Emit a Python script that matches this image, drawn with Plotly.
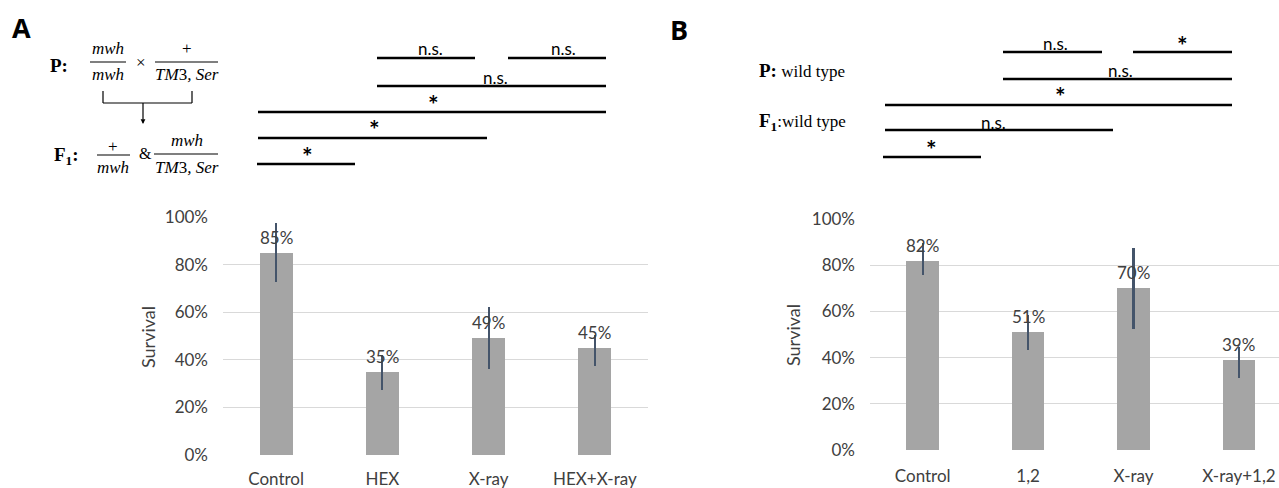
import plotly.graph_objects as go

W, H = 1279, 488

# ---------------- data ----------------
cats_a = ["Control", "HEX", "X-ray", "HEX+X-ray"]
surv_a = [0.85, 0.35, 0.49, 0.45]
err_up_a = [0.126, 0.070, 0.133, 0.054]
err_dn_a = [0.122, 0.077, 0.129, 0.075]

cats_b = ["Control", "1,2", "X-ray", "X-ray+1,2"]
surv_b = [0.82, 0.51, 0.70, 0.39]
err_up_b = [0.076, 0.075, 0.174, 0.058]
err_dn_b = [0.061, 0.077, 0.176, 0.077]

ytick_vals = [0, 0.2, 0.4, 0.6, 0.8, 1.0]
ytick_text = ["0%", "20%", "40%", "60%", "80%", "100%"]

sig_labels_a = ["n.s.", "n.s.", "n.s.", "*", "*", "*"]
sig_labels_b = ["n.s.", "*", "n.s.", "*", "n.s.", "*"]

# ---------------- layout helpers ----------------
def px(x):
    return x / W

def py(y):
    return 1 - y / H

BAR = "#a5a5a5"
ERR = "#44546a"
GRID = "#d9d9d9"
TXT = "#404040"
FONT = "Lato"
SERIF = "Liberation Serif"

fig = go.Figure()

fig.add_trace(go.Bar(
    x=cats_a, y=surv_a, marker=dict(color=BAR, line=dict(width=0)), width=0.31,
    error_y=dict(type="data", symmetric=False, array=err_up_a, arrayminus=err_dn_a,
                 color=ERR, thickness=2.2, width=0),
    xaxis="x", yaxis="y", showlegend=False, hoverinfo="skip",
))
fig.add_trace(go.Bar(
    x=cats_b, y=surv_b, marker=dict(color=BAR, line=dict(width=0)), width=0.31,
    error_y=dict(type="data", symmetric=False, array=err_up_b, arrayminus=err_dn_b,
                 color=ERR, thickness=2.2, width=0),
    xaxis="x2", yaxis="y2", showlegend=False, hoverinfo="skip",
))

annotations = []
shapes = []

def note(x, y, t, size, family, color="black", xanchor="center", angle=0):
    annotations.append(dict(x=px(x), y=py(y), xref="paper", yref="paper", text=t,
                            showarrow=False, xanchor=xanchor, yanchor="middle",
                            textangle=angle, font=dict(family=family, size=size, color=color)))

# data labels
for cats, vals, xr, yr in [(cats_a, surv_a, "x", "y"), (cats_b, surv_b, "x2", "y2")]:
    for c, v in zip(cats, vals):
        annotations.append(dict(x=c, y=v, xref=xr, yref=yr, text=f"{round(v*100)}%",
                                showarrow=False, xanchor="center", yanchor="bottom", yshift=3,
                                font=dict(family=FONT, size=17, color=TXT)))

# axis titles
note(148, 337, "Survival", 18, FONT, TXT, angle=-90)
note(793, 335, "Survival", 18, FONT, TXT, angle=-90)

# panel letters
note(22, 28, "<b>A</b>", 27, "Open Sans")
note(679, 29, "<b>B</b>", 27, "Open Sans")

# significance bars (pixel positions)
sig_pos_a = [(377, 475, 58), (508, 606, 58), (377, 606, 86), (258, 606, 112), (258, 487, 138), (257, 355, 164)]
sig_txt_a = [(430, 49), (563, 49), (495, 77), (433, 104), (374, 129), (307, 156)]
sig_pos_b = [(1003, 1102, 52), (1133, 1232, 52), (1003, 1232, 79), (885, 1232, 105), (885, 1113, 130), (883, 981, 157)]
sig_txt_b = [(1055, 43), (1182, 45), (1120, 70), (1060, 96), (993, 122), (931, 149)]

for labels, pos, tpos in [(sig_labels_a, sig_pos_a, sig_txt_a), (sig_labels_b, sig_pos_b, sig_txt_b)]:
    for lab, (x0, x1, y), (tx, ty) in zip(labels, pos, tpos):
        shapes.append(dict(type="line", xref="paper", yref="paper", x0=px(x0), x1=px(x1),
                           y0=py(y), y1=py(y), line=dict(color="black", width=2.6)))
        if lab == "*":
            note(tx, ty, "<b>*</b>", 25, FONT)
        else:
            note(tx, ty, lab, 17, FONT)

# genetics text panel A
def serif(x, y, t, size=17, anchor="center"):
    note(x, y, t, size, SERIF, xanchor=anchor)

def hline(x0, x1, y, w=1.2):
    shapes.append(dict(type="line", xref="paper", yref="paper", x0=px(x0), x1=px(x1),
                       y0=py(y), y1=py(y), line=dict(color="black", width=w)))

def vline(x, y0, y1, w=1.2):
    shapes.append(dict(type="line", xref="paper", yref="paper", x0=px(x), x1=px(x),
                       y0=py(y0), y1=py(y1), line=dict(color="black", width=w)))

serif(59, 66, "<b>P:</b>", 19)
serif(108, 48, "<i>mwh</i>", 17)
hline(90, 126, 62)
serif(108, 75, "<i>mwh</i>", 17)
serif(141, 63, "×", 17)
serif(187, 48, "+", 17)
hline(155, 218, 62)
serif(187, 75, "<i>TM</i>3<i>, Ser</i>", 17)
# bracket
vline(103, 91, 103)
vline(192, 91, 103)
hline(103, 192, 103)
vline(143, 103, 119)
annotations.append(dict(x=px(143), y=py(124), ax=0, ay=-6, xref="paper", yref="paper",
                        axref="pixel", ayref="pixel", text="", showarrow=True, arrowhead=2,
                        arrowsize=0.8, arrowwidth=1.2, arrowcolor="black"))
serif(66, 156, "<b>F<sub>1</sub>:</b>", 19)
serif(113, 146, "+", 17)
hline(97, 130, 155)
serif(113, 168, "<i>mwh</i>", 17)
serif(145, 153, "&amp;", 16)
serif(187, 140, "<i>mwh</i>", 17)
hline(154, 218, 154)
serif(187, 168, "<i>TM</i>3<i>, Ser</i>", 17)

# genetics text panel B
serif(757, 70, "<b><span style='font-size:19px'>P:</span></b> wild type", 17, anchor="left")
serif(757, 122, "<b><span style='font-size:19px'>F<sub>1</sub></span></b>:wild type", 17, anchor="left")

axis_common = dict(showgrid=False, showline=False, zeroline=False, ticks="", automargin=False,
                   tickfont=dict(family=FONT, size=17, color=TXT), fixedrange=True)
yaxis_common = dict(range=[0, 1.0], tickvals=ytick_vals, ticktext=ytick_text, showgrid=True,
                    gridcolor=GRID, gridwidth=1.3, zeroline=False, showline=False, ticks="",
                    automargin=False,
                    tickfont=dict(family=FONT, size=17, color=TXT), ticklabelstandoff=14,
                    fixedrange=True)

fig.update_layout(
    template="none",
    width=W, height=H,
    margin=dict(l=0, r=0, t=0, b=0, pad=0),
    paper_bgcolor="white", plot_bgcolor="white",
    xaxis=dict(domain=[px(223), px(648)], range=[-0.5, 3.5], anchor="y",
               ticklabelstandoff=12, **axis_common),
    yaxis=dict(domain=[py(455), py(217)], anchor="x", **yaxis_common),
    xaxis2=dict(domain=[px(870), 1.0], range=[-0.5, 3.38], anchor="y2",
                ticklabelstandoff=14, **axis_common),
    yaxis2=dict(domain=[py(450), py(219)], anchor="x2", **yaxis_common),
    annotations=annotations,
    shapes=shapes,
    bargap=0,
)

fig.write_html("out.html", config={"displayModeBar": False},
               post_script="document.body.style.margin='0';document.body.style.overflow='hidden';")
